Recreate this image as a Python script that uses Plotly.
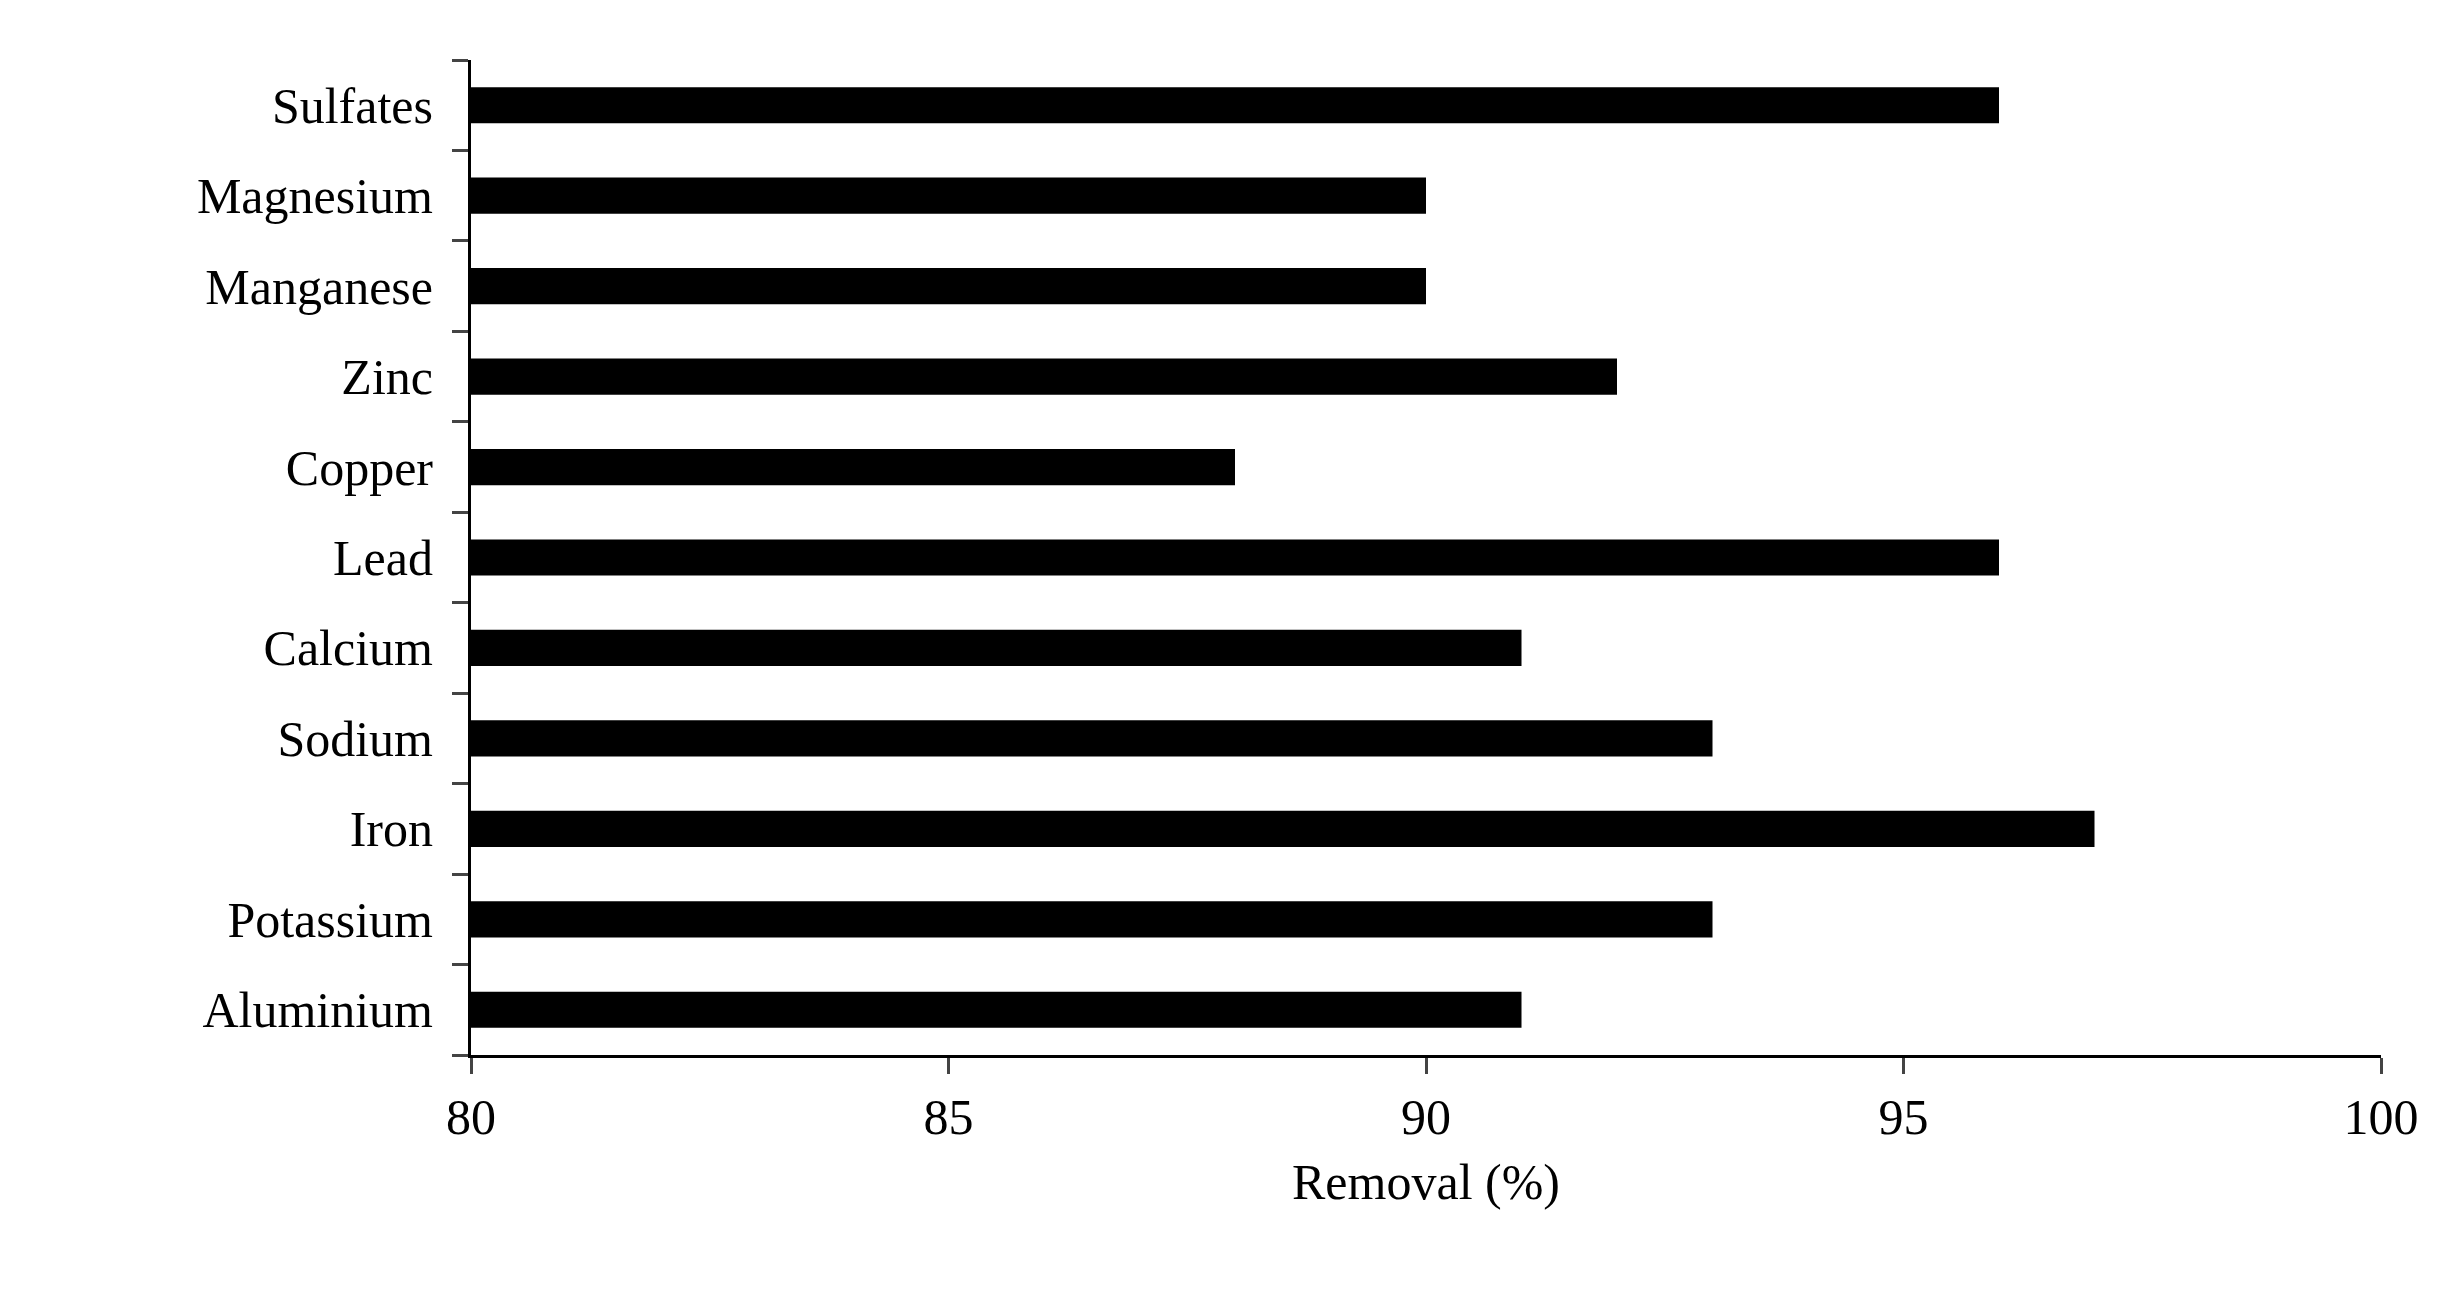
import plotly.graph_objects as go

categories = ["Aluminium", "Potassium", "Iron", "Sodium", "Calcium", "Lead",
              "Copper", "Zinc", "Manganese", "Magnesium", "Sulfates"]
values = [91, 93, 97, 93, 91, 96, 88, 92, 90, 90, 96]
x_ticks = [80, 85, 90, 95, 100]

fig = go.Figure(go.Bar(x=values, y=categories, orientation="h",
                       marker=dict(color="black", line=dict(width=0))))
font = dict(family="Liberation Serif, DejaVu Serif, serif", size=50, color="black")
fig.update_layout(
    width=2444, height=1310, plot_bgcolor="white", paper_bgcolor="white",
    margin=dict(l=463, r=71, t=52, b=263), bargap=0.6, font=font, showlegend=False,
)
fig.update_xaxes(range=[80, 100], tickvals=x_ticks, ticks="outside", ticklen=16,
                 tickwidth=3, showline=True, linecolor="black", linewidth=3,
                 showgrid=False, zeroline=False, tickfont=font,
                 title=dict(text="Removal (%)", font=font, standoff=20))
fig.update_yaxes(categoryorder="array", categoryarray=categories, ticks="outside",
                 tickson="boundaries", ticklen=16, tickwidth=3, showline=True,
                 linecolor="black", linewidth=3, showgrid=False, tickfont=font,
                 ticksuffix="  ")
fig.write_html("out.html")
